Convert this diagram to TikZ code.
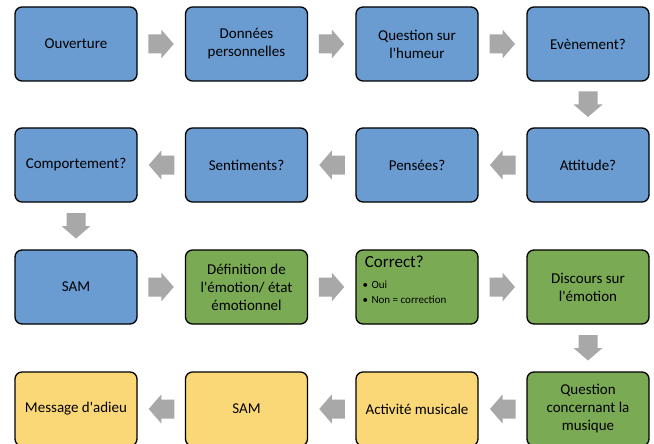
\documentclass[tikz,border=0pt]{standalone}
\usepackage{fontspec}
\setmainfont{Carlito}[Ligatures=TeXOff]
\usetikzlibrary{calc}
\definecolor{bxblue}{RGB}{106,155,209}
\definecolor{bxgreen}{RGB}{123,170,84}
\definecolor{bxyellow}{RGB}{250,216,120}
\definecolor{arrgrey}{RGB}{168,168,168}
\begin{document}
\begin{tikzpicture}[x=1pt,y=1pt,
  box/.style={draw=black, line width=1.3pt, rounded corners=7pt,
    minimum width=122pt, minimum height=74pt, inner sep=2pt,
    align=center, font=\fontsize{15}{18}\selectfont},
  bluebox/.style={box, fill=bxblue},
  greenbox/.style={box, fill=bxgreen},
  yellowbox/.style={box, fill=bxyellow},
  blockarrow/.pic={\fill[arrgrey] (-13,-9.5) -- (0,-9.5) -- (0,-14.5) -- (12.5,0)
     -- (0,14.5) -- (0,9.5) -- (-13,9.5) -- cycle;}
]
\useasboundingbox (0,0) rectangle (654,-444);
% row 1
\node[bluebox] (a1) at (76,-44) {Ouverture};
\node[bluebox] (a2) at (246.5,-44) {Données\\personnelles};
\node[bluebox] (a3) at (417,-44) {Question sur\\l'humeur};
\node[bluebox] (a4) at (588,-44) {Evènement?};
% row 2
\node[bluebox] (b4) at (588,-165) {Attitude?};
\node[bluebox] (b3) at (417,-165) {Pensées?};
\node[bluebox] (b2) at (246.5,-165) {Sentiments?};
\node[bluebox] (b1) at (76,-165) {Comportement?};
% row 3
\node[bluebox] (c1) at (76,-287) {SAM};
\node[greenbox] (c2) at (246.5,-287) {Définition de\\l'émotion/ état\\émotionnel};
\node[greenbox] (c3) at (417,-287) {};
\node[greenbox] (c4) at (588,-287) {Discours sur\\l'émotion};
\node[anchor=base west, font=\fontsize{17}{20}\selectfont] (ct) at ($(c3.north west)+(6,-18)$) {Correct?};
\node[anchor=base west, inner sep=0pt, font=\fontsize{11}{13}\selectfont] (cb1) at ($(c3.north west)+(7,-39)$) {•\hspace{3.5pt}Oui};
\node[anchor=base west, inner sep=0pt, font=\fontsize{11}{13}\selectfont] (cb2) at ($(c3.north west)+(7,-54)$) {•\hspace{3.5pt}Non = correction};
% row 4
\node[greenbox] (d4) at (588,-409) {Question\\concernant la\\musique};
\node[yellowbox] (d3) at (417,-409) {Activité musicale};
\node[yellowbox] (d2) at (246.5,-409) {SAM};
\node[yellowbox] (d1) at (76,-409) {Message d'adieu};
% arrows
\pic at ($(a1.east)!0.5!(a2.west)$) {blockarrow};
\pic at ($(a2.east)!0.5!(a3.west)$) {blockarrow};
\pic at ($(a3.east)!0.5!(a4.west)$) {blockarrow};
\pic[rotate=-90] at ($(a4.south)!0.5!(b4.north)$) {blockarrow};
\pic[rotate=180] at ($(b4.west)!0.5!(b3.east)$) {blockarrow};
\pic[rotate=180] at ($(b3.west)!0.5!(b2.east)$) {blockarrow};
\pic[rotate=180] at ($(b2.west)!0.5!(b1.east)$) {blockarrow};
\pic[rotate=-90] at ($(b1.south)!0.5!(c1.north)$) {blockarrow};
\pic at ($(c1.east)!0.5!(c2.west)$) {blockarrow};
\pic at ($(c2.east)!0.5!(c3.west)$) {blockarrow};
\pic at ($(c3.east)!0.5!(c4.west)$) {blockarrow};
\pic[rotate=-90] at ($(c4.south)!0.5!(d4.north)$) {blockarrow};
\pic[rotate=180] at ($(d4.west)!0.5!(d3.east)$) {blockarrow};
\pic[rotate=180] at ($(d3.west)!0.5!(d2.east)$) {blockarrow};
\pic[rotate=180] at ($(d2.west)!0.5!(d1.east)$) {blockarrow};
\end{tikzpicture}
\end{document}
